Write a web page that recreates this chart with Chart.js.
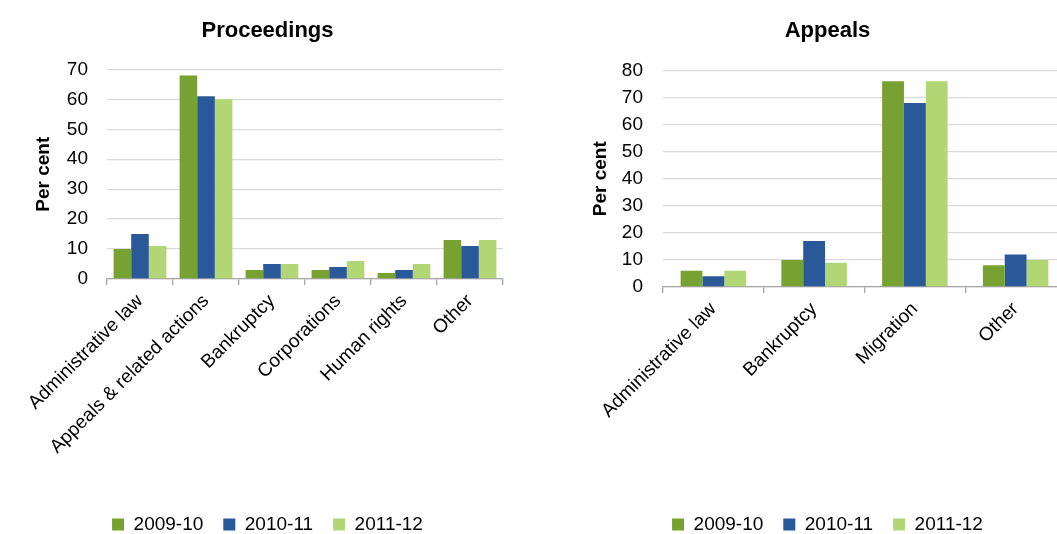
<!DOCTYPE html>
<html lang="en">
<head>
<meta charset="UTF-8">
<title>Proceedings and Appeals by Cause of Action</title>
<script src="https://cdn.jsdelivr.net/npm/chart.js"></script>
<style>
  body { margin: 0; background: #fff; overflow: hidden; width: 1057px; height: 534px; position: relative; }
  .panel { position: absolute; top: 0; height: 534px; }
</style>
</head>
<body>

<div class="panel" style="left:0;width:530px;"><canvas id="proceedingsChart" width="530" height="534"></canvas></div>
<div class="panel" style="left:580px;width:530px;"><canvas id="appealsChart" width="530" height="534"></canvas></div>

<script>
    const years = ['2009-10', '2010-11', '2011-12'];
    const yearColours = ['#77a131', '#295998', '#b3d675'];

    // Proceedings by cause of action (per cent)
    const proceedingsLabels = ['Administrative law', 'Appeals & related actions', 'Bankruptcy', 'Corporations', 'Human rights', 'Other'];
    const proceedings2009 = [10, 68, 3, 3, 2, 13];
    const proceedings2010 = [15, 61, 5, 4, 3, 11];
    const proceedings2011 = [11, 60, 5, 6, 5, 13];
    const proceedingsMax = 70;

    // Appeals by cause of action (per cent)
    const appealsLabels = ['Administrative law', 'Bankruptcy', 'Migration', 'Other'];
    const appeals2009 = [6, 10, 76, 8];
    const appeals2010 = [4, 17, 68, 12];
    const appeals2011 = [6, 9, 76, 10];
    const appealsMax = 80;

    Chart.defaults.font.family = 'Arial, "Liberation Sans", sans-serif';
    Chart.defaults.color = '#000';

    function makeChart(id, title, labels, series, yMax, box) {
        var ctx = document.getElementById(id).getContext('2d');
        return new Chart(ctx, {
            type: 'bar',
            data: {
                labels: labels,
                datasets: series.map((values, i) => ({
                    label: years[i],
                    data: values,
                    backgroundColor: yearColours[i],
                    borderWidth: 0,
                    categoryPercentage: box.catPct,
                    barPercentage: 1.0
                }))
            },
            options: {
                responsive: false,
                animation: false,
                layout: { padding: { left: box.padLeft, right: box.padRight, top: 0, bottom: -10 } },
                plugins: {
                    title: {
                        display: true,
                        text: title,
                        color: '#000',
                        font: { size: 22, weight: 'bold' },
                        padding: { top: 18, bottom: box.titleGap }
                    },
                    legend: {
                        position: 'bottom',
                        labels: {
                            boxWidth: 12,
                            boxHeight: 12,
                            padding: 20,
                            color: '#000',
                            font: { size: 19 }
                        }
                    },
                    tooltip: { enabled: false }
                },
                scales: {
                    x: {
                        grid: { offset: true, drawOnChartArea: false, drawTicks: true, tickLength: 6, color: '#a6a6a6', lineWidth: 1.3 },
                        border: { color: '#a6a6a6', width: 1.3 },
                        ticks: { autoSkip: false, maxRotation: 45, minRotation: 45, font: { size: 19 }, padding: 5 },
                        afterFit: s => { s.height = box.xHeight; }
                    },
                    y: {
                        min: 0,
                        max: yMax,
                        ticks: { stepSize: 10, font: { size: 19 }, padding: box.tickGap },
                        grid: { color: '#d9d9d9', lineWidth: 1.3, drawTicks: false },
                        border: { display: false },
                        title: {
                            display: true,
                            text: 'Per cent',
                            font: { size: 19, weight: 'bold' },
                            padding: { top: 0, bottom: 0 }
                        },
                        afterFit: s => { s.width = box.yWidth; }
                    }
                }
            }
        });
    }

    makeChart('proceedingsChart', 'Proceedings', proceedingsLabels,
        [proceedings2009, proceedings2010, proceedings2011], proceedingsMax,
        { padLeft: 32, padRight: 27, yWidth: 75, xHeight: 216, titleGap: 25, tickGap: 19, catPct: 0.8 });

    makeChart('appealsChart', 'Appeals', appealsLabels,
        [appeals2009, appeals2010, appeals2011], appealsMax,
        { padLeft: 9, padRight: 44, yWidth: 74, xHeight: 208, titleGap: 26, tickGap: 20, catPct: 0.65 });
</script>

</body>
</html>
